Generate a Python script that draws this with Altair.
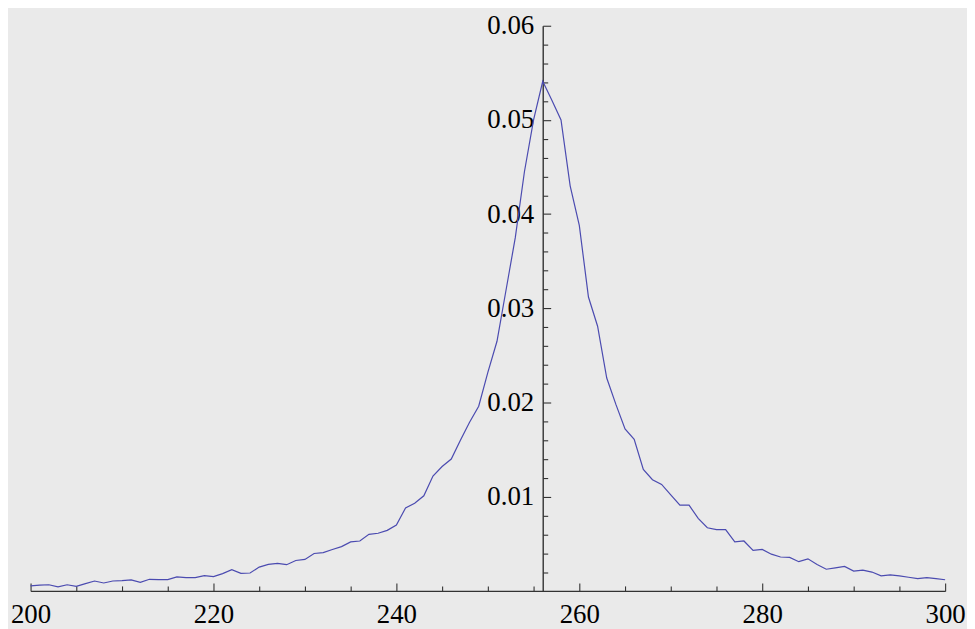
import altair as alt
import pandas as pd

# ---- data ----
xs = list(range(200, 301))
ys = [
    0.00053, 0.00062, 0.00065, 0.00042, 0.00065, 0.00049, 0.00077, 0.00105, 0.00084, 0.00105,  # 200-209
    0.00109, 0.00116, 0.00091, 0.00123, 0.00120, 0.00120, 0.00148, 0.00140, 0.00140, 0.00162,  # 210-219
    0.00151, 0.00183, 0.00225, 0.00186, 0.00190, 0.00253, 0.00281, 0.00292, 0.00278, 0.00323,  # 220-229
    0.00334, 0.00397, 0.00406, 0.00440, 0.00470, 0.00520, 0.00530, 0.00600, 0.00612, 0.00643,  # 230-239
    0.00700, 0.00880, 0.00930, 0.01010, 0.01220, 0.01320, 0.01400, 0.01600, 0.01790, 0.01960,  # 240-249
    0.02320, 0.02650, 0.03200, 0.03750, 0.04450, 0.05000, 0.05410, 0.05210, 0.05000, 0.04300,  # 250-259
    0.03880, 0.03120, 0.02810, 0.02260, 0.01980, 0.01720, 0.01610, 0.01290, 0.01180, 0.01130,  # 260-269
    0.01020, 0.00910, 0.00910, 0.00770, 0.00670, 0.00650, 0.00650, 0.00520, 0.00530, 0.00430,  # 270-279
    0.00440, 0.00390, 0.00360, 0.00355, 0.00310, 0.00340, 0.00280, 0.00230, 0.00245, 0.00260,  # 280-289
    0.00210, 0.00220, 0.00200, 0.00160, 0.00170, 0.00160, 0.00145, 0.00130, 0.00140, 0.00130,  # 290-299
    0.00118,                                                                                   # 300
]
x_labels = [200, 220, 240, 260, 280, 300]
x_ticks = list(range(200, 301, 5))
y_labels = [0.01, 0.02, 0.03, 0.04, 0.05, 0.06]
y_ticks = [round(i * 0.002, 3) for i in range(1, 31)]
x_domain = [200, 300]
y_domain = [0, 0.06]
axis_cross_x = 256

df = pd.DataFrame({"x": xs, "y": ys})

W, H = 920, 568.5
FONT = "Liberation Serif"
FS = 27
AXC = "#333333"
frac = (axis_cross_x - x_domain[0]) / (x_domain[1] - x_domain[0])

xscale = alt.Scale(domain=x_domain, nice=False, zero=False)
yscale = alt.Scale(domain=y_domain, nice=False, zero=False)

x_tick_size = {"condition": {"test": "abs(datum.value % 20) < 0.001", "value": 8}, "value": 5}
y_tick_size = {"condition": {"test": "abs(datum.value*100 - round(datum.value*100)) < 0.001", "value": 8}, "value": 5}

ticks_layer = alt.Chart(df).mark_line(strokeOpacity=0).encode(
    x=alt.X("x:Q", scale=xscale, axis=alt.Axis(
        orient="top", offset=-H, values=x_ticks, labels=False, grid=False,
        tickSize=x_tick_size, tickColor=AXC, tickWidth=1.1,
        domainColor=AXC, domainWidth=1.4, title=None)),
    y=alt.Y("y:Q", scale=yscale, axis=alt.Axis(
        orient="right", offset=-(1 - frac) * W, values=y_ticks, labels=False, grid=False,
        tickSize=y_tick_size, tickColor=AXC, tickWidth=1.1,
        domainColor=AXC, domainWidth=1.4, title=None)),
)

line_layer = alt.Chart(df).mark_line(color="#4B4BB0", strokeWidth=1.2).encode(
    x=alt.X("x:Q", scale=xscale, axis=alt.Axis(
        orient="bottom", values=x_labels, ticks=False, domain=False, grid=False,
        labelFont=FONT, labelFontSize=FS, labelColor="black", labelPadding=11,
        labelFlush=False, labelOverlap=False, title=None)),
    y=alt.Y("y:Q", scale=yscale, axis=alt.Axis(
        orient="left", offset=-frac * W, values=y_labels, format=".2f",
        ticks=False, domain=False, grid=False,
        labelFont=FONT, labelFontSize=FS, labelColor="black", labelPadding=9,
        labelFlush=False, labelOverlap=False, title=None)),
)

chart = alt.layer(ticks_layer, line_layer).resolve_scale(
    x="independent", y="independent"
).properties(
    width=W, height=H,
    autosize=alt.AutoSizeParams(type="none"),
    padding={"left": 22.7, "top": 16, "right": 22, "bottom": 40},
    background="#EAEAEA",
).configure_view(stroke=None)

chart.save("out.html", embed_options={"renderer": "svg", "actions": False})
